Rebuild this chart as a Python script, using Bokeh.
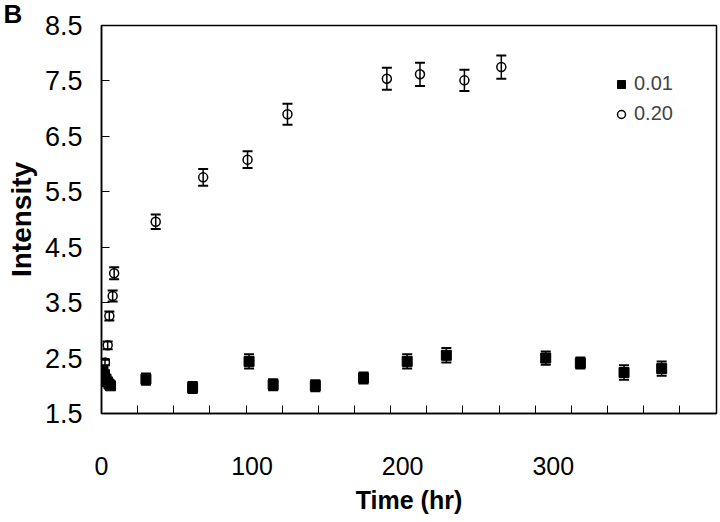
from bokeh.plotting import figure
from bokeh.models import (ColumnDataSource, Whisker, TeeHead, FixedTicker, Legend,
                          LegendItem, Range1d, Title)
from bokeh.embed import file_html
from bokeh.resources import INLINE

# ---- data ----
sq_x = [1, 2, 3, 4, 5, 6, 29.5, 60.5, 98, 114, 142, 174, 203, 229, 295, 318, 347, 372]
sq_y = [2.25, 2.2, 2.12, 2.07, 2.03, 2.0, 2.12, 1.97, 2.44, 2.02, 2.0, 2.14, 2.44, 2.55,
        2.5, 2.41, 2.24, 2.31]
sq_err = [0.05, 0.05, 0.05, 0.05, 0.05, 0.05, 0.1, 0.1, 0.13, 0.1, 0.1, 0.1, 0.13, 0.13,
          0.12, 0.1, 0.13, 0.13]

ci_x = [2.3, 4.1, 5.2, 7.4, 8.4, 36, 67.5, 97, 123.5, 189.5, 211.5, 241, 265.5]
ci_y = [2.42, 2.73, 3.26, 3.62, 4.03, 4.96, 5.76, 6.08, 6.9, 7.54, 7.62, 7.51, 7.75]
ci_err = [0.05, 0.07, 0.08, 0.1, 0.11, 0.13, 0.15, 0.15, 0.19, 0.2, 0.21, 0.19, 0.21]

x_labels = [0, 100, 200, 300]
x_minor = [24 * k for k in range(1, 17)]
y_ticks = [1.5, 2.5, 3.5, 4.5, 5.5, 6.5, 7.5, 8.5]
series_names = ["0.01", "0.20"]

FONT = "'Liberation Sans', Arial, sans-serif"

p = figure(width=720, height=522, output_backend="svg", toolbar_location=None,
           x_range=Range1d(0, 408.4), y_range=Range1d(1.5, 8.5),
           min_border_left=101, min_border_right=4, min_border_top=24, min_border_bottom=109)
p.grid.visible = False
p.background_fill_color = "white"
p.outline_line_color = "black"
p.outline_line_width = 1.5

sq_src = ColumnDataSource(dict(x=sq_x, y=sq_y,
                               lo=[a - b for a, b in zip(sq_y, sq_err)],
                               hi=[a + b for a, b in zip(sq_y, sq_err)]))
ci_src = ColumnDataSource(dict(x=ci_x, y=ci_y,
                               lo=[a - b for a, b in zip(ci_y, ci_err)],
                               hi=[a + b for a, b in zip(ci_y, ci_err)]))

r_sq = p.scatter("x", "y", source=sq_src, marker="square", size=10,
                 fill_color="black", line_color="black")
r_ci = p.scatter("x", "y", source=ci_src, marker="circle", size=9,
                 fill_color=None, line_color="black", line_width=1.5)

for src in (sq_src, ci_src):
    w = Whisker(source=src, base="x", lower="lo", upper="hi", dimension="height",
                line_color="black", line_width=1.5,
                lower_head=TeeHead(size=10, line_width=2, line_color="black"),
                upper_head=TeeHead(size=10, line_width=2, line_color="black"))
    p.add_layout(w)

# axes
xa = p.xaxis[0]
xa.ticker = FixedTicker(ticks=x_labels, minor_ticks=x_minor)
xa.major_tick_in = 0
xa.major_tick_out = 0
xa.minor_tick_in = 8
xa.minor_tick_out = 0
xa.axis_line_color = "black"
xa.axis_line_width = 1.5
xa.major_label_text_font = FONT
xa.major_label_text_font_size = "25px"
xa.major_label_text_color = "black"
xa.major_label_standoff = 43
xa.axis_label = "Time (hr)"
xa.axis_label_text_font = FONT
xa.axis_label_text_font_size = "25px"
xa.axis_label_text_font_style = "bold"
xa.axis_label_text_color = "black"
xa.axis_label_standoff = 8

ya = p.yaxis[0]
ya.ticker = FixedTicker(ticks=y_ticks, minor_ticks=[])
ya.major_tick_in = 8
ya.major_tick_out = 0
ya.minor_tick_in = 0
ya.minor_tick_out = 0
ya.axis_line_color = "black"
ya.axis_line_width = 1.5
ya.major_label_text_font = FONT
ya.major_label_text_font_size = "27px"
ya.major_label_text_color = "black"
ya.major_label_standoff = 19
ya.axis_label = "Intensity"
ya.axis_label_text_font = FONT
ya.axis_label_text_font_size = "28px"
ya.axis_label_text_font_style = "bold"
ya.axis_label_text_color = "black"
ya.axis_label_standoff = 5

legend = Legend(items=[LegendItem(label=series_names[0], renderers=[r_sq]),
                       LegendItem(label=series_names[1], renderers=[r_ci])],
                location=(510, 288), padding=0, margin=0, spacing=7,
                glyph_width=20, glyph_height=20, label_height=20, label_standoff=3,
                label_text_font=FONT, label_text_font_size="20px",
                border_line_color=None, background_fill_alpha=0)
p.add_layout(legend)

panel_title = Title(text="B", align="left", offset=-98, standoff=-7,
                    text_font=FONT, text_font_size="26px", text_font_style="bold",
                    text_color="black")
p.add_layout(panel_title, "above")

open("out.html", "w").write(file_html(p, INLINE))
